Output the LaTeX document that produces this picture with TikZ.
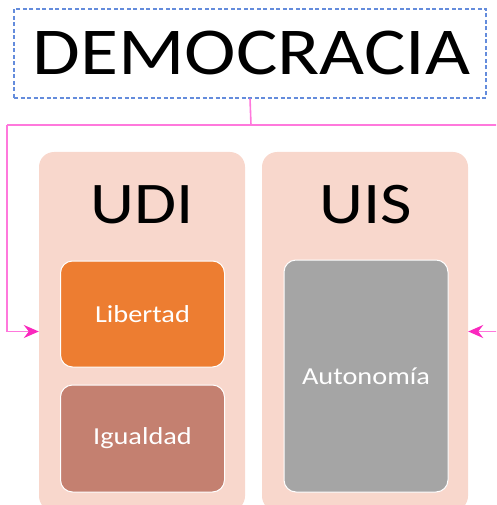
\documentclass[tikz,border=0pt]{standalone}
\usepackage{fontspec}
\setmainfont[FakeStretch=1.16]{Carlito}
\usetikzlibrary{arrows.meta}
\definecolor{panelc}{RGB}{248,215,204}
\definecolor{libc}{RGB}{237,125,49}
\definecolor{igc}{RGB}{196,128,112}
\definecolor{autc}{RGB}{165,165,165}
\definecolor{linkc}{RGB}{255,120,220}
\definecolor{tipc}{RGB}{250,40,190}
\definecolor{dashc}{RGB}{100,140,220}
\tikzset{
  panel/.style={fill=panelc, draw=none, rounded corners=15pt, minimum width=206pt, minimum height=359pt, inner sep=0pt},
  item/.style={draw=white, line width=1pt, rounded corners=12pt, minimum width=164pt, inner sep=0pt, text=white, font=\fontsize{24.4}{26}\selectfont},
  link/.style={draw=linkc, line width=1.6pt},
  linkarrow/.style={link, -{Stealth[length=15pt, width=13pt, inset=5pt, color=tipc, fill=tipc]}},
  bigtitle/.style={anchor=base, inner sep=0pt, font=\fontsize{59}{60}\selectfont}
}
\begin{document}
\begin{tikzpicture}[x=1pt,y=-1pt]
\useasboundingbox (0,0) rectangle (496,505);
\begin{scope}
\clip (0,0) rectangle (496,505);
% top box
\node[draw=dashc, dash pattern=on 4pt off 2.5pt, line width=1.1pt, minimum width=472pt, minimum height=89pt, inner sep=0pt] (demo) at (250,53.5) {};
\node[anchor=base, inner sep=0pt, font=\fontsize{67}{68}\selectfont] (demotxt) at (251.5,75) {DEMOCRACIA};
% panels
\node[panel] (udi) at (142,331.5) {};
\node[panel] (uis) at (365,331.5) {};
\node[bigtitle] (uditxt) at (142.5,223) {UDI};
\node[bigtitle] (uistxt) at (365.5,223) {UIS};
% items
\node[item, fill=libc, minimum height=106pt] (lib) at (142.5,314) {Libertad};
\node[item, fill=igc, minimum height=107pt] (igu) at (142.5,438.5) {Igualdad};
\node[item, fill=autc, minimum height=232pt] (aut) at (366,376) {Autonom\'ia};
% connectors
\coordinate (j) at (251,125);
\coordinate (hl) at (7,125);
\coordinate (hr) at (497,125);
\coordinate (rr) at (497,331.5);
\draw[link] (demo.south) -- (j);
\draw[link] (hr) -- (hl);
\draw[linkarrow] (hl) -- (hl |- udi.west) -- (udi.west);
\draw[linkarrow] (rr) -- (uis.east);
\end{scope}
\end{tikzpicture}
\end{document}
